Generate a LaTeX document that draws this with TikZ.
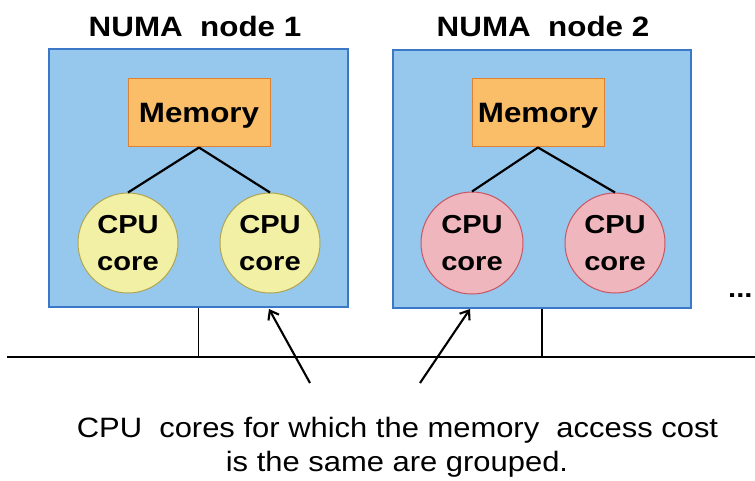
\documentclass[tikz,border=0pt]{standalone}
\usepackage{fontspec}
\setmainfont{Liberation Sans}
\usetikzlibrary{arrows.meta}
\definecolor{boxfill}{RGB}{150,200,238}
\definecolor{boxline}{RGB}{60,120,200}
\definecolor{memfill}{RGB}{250,190,105}
\definecolor{memline}{RGB}{220,130,50}
\definecolor{yelfill}{RGB}{242,240,165}
\definecolor{yelline}{RGB}{175,165,80}
\definecolor{pinkfill}{RGB}{240,182,190}
\definecolor{pinkline}{RGB}{200,85,95}
\newcommand\hs[1]{\scalebox{1.12}[1]{#1}}
\newcommand\hc[1]{\scalebox{1.105}[1]{#1}}
\begin{document}
\begin{tikzpicture}[x=1pt,y=-1pt,
  numabox/.style={draw=boxline, fill=boxfill, line width=1.2pt, inner sep=0pt},
  membox/.style={draw=memline, fill=memfill, line width=1pt, inner sep=0pt,
    minimum height=68pt, text height=20pt, text depth=0pt,
    font=\fontsize{28}{34}\selectfont\bfseries},
  core/.style={circle, line width=1pt, inner sep=0pt, minimum size=100pt, align=center,
    font=\fontsize{26}{37}\selectfont\bfseries},
  ycore/.style={core, draw=yelline, fill=yelfill},
  pcore/.style={core, draw=pinkline, fill=pinkfill},
  title/.style={anchor=base, inner sep=0pt, font=\fontsize{28}{34}\selectfont\bfseries},
  link/.style={line width=2.2pt, black},
  bus/.style={line width=2.4pt, black},
  stub/.style={line width=1.8pt, black},
  pointer/.style={line width=2.1pt, black, -{Straight Barb[length=8pt,width=12pt]}},
  caption/.style={anchor=base, inner sep=0pt, font=\fontsize{28}{34}\selectfont}
]
\useasboundingbox (0,0) rectangle (755,481);

% NUMA boxes
\node[numabox, minimum width=299pt, minimum height=258pt] (box1) at (198.5,178) {};
\node[numabox, minimum width=298pt, minimum height=258pt] (box2) at (542,179) {};

% titles
\node[title] (t1) at (195,37) {\hs{NUMA\ \ node 1}};
\node[title] (t2) at (543,37) {\hs{NUMA\ \ node 2}};

% memory
\node[membox, minimum width=142pt] (mem1) at (199,113) {\hs{Memory}};
\node[membox, minimum width=132pt] (mem2) at (538,113) {\hs{Memory}};

% cores
\node[ycore] (c11) at (128,243) {\hs{CPU}\\\hs{core}};
\node[ycore] (c12) at (270,243) {\hs{CPU}\\\hs{core}};
\node[pcore, minimum size=102pt] (c21) at (472,243) {\hs{CPU}\\\hs{core}};
\node[pcore] (c22) at (615,243) {\hs{CPU}\\\hs{core}};

\draw[link] (mem1.south) -- (c11.north);
\draw[link] (mem1.south) -- (c12.north);
\draw[link] (mem2.south) -- (c21.north);
\draw[link] (mem2.south) -- (c22.north);

% bus
\coordinate (busL) at (7,357);
\coordinate (busR) at (755,357);
\draw[bus] (busL) -- (busR);
\draw[stub] (box1.south) -- (box1.south |- busL);
\draw[stub] (box2.south) -- (box2.south |- busL);

% dots
\node[anchor=base west, inner sep=0pt, font=\fontsize{26}{34}\selectfont\bfseries] (dots) at (728,297) {\hs{...}};

% pointers
\coordinate (a1) at (310,383);
\coordinate (h1) at (269,309);
\coordinate (a2) at (420,383);
\coordinate (h2) at (470,309);
\draw[pointer] (a1) -- (h1);
\draw[pointer] (a2) -- (h2);

% caption
\node[caption] (cap1) at (397.5,437) {\hc{CPU\ \ cores for which the memory\ \ access cost}};
\node[caption] (cap2) at (397,471) {\hc{is the same are grouped.}};
\end{tikzpicture}
\end{document}
